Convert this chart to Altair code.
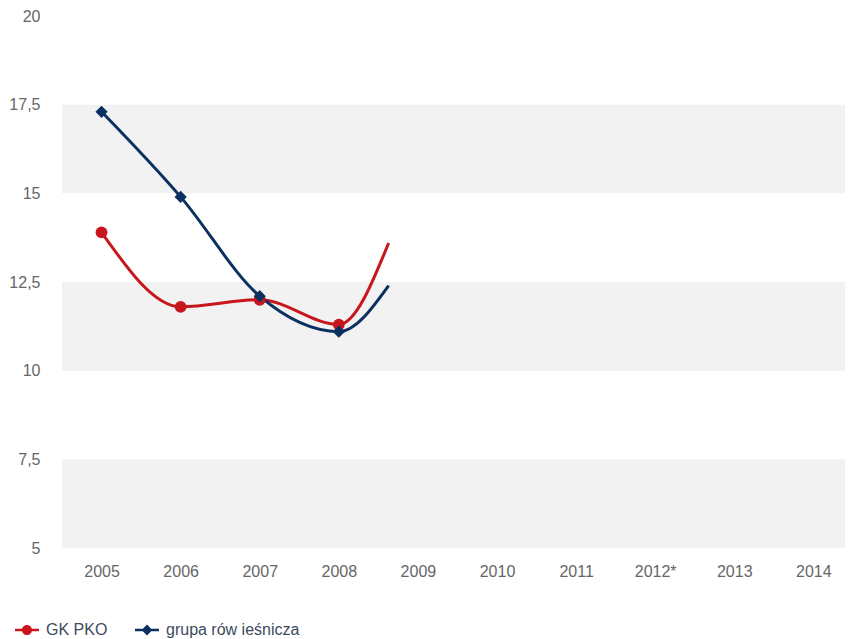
import altair as alt
import pandas as pd

# ---- data ----
years = [2005, 2006, 2007, 2008]
gk_pko = [13.9, 11.8, 12.0, 11.3]
peer_group = [17.3, 14.9, 12.1, 11.1]
# where the drawn lines stop (the curves are cut off on their way to 2009)
cut_year = 2008.63
gk_pko_cut = 13.6
peer_group_cut = 12.4

series_names = ["GK PKO", "grupa rów ieśnicza"]
series_colors = ["#c8161e", "#0b3161"]

x_ticks = [2005, 2006, 2007, 2008, 2009, 2010, 2011, 2012, 2013, 2014]
x_labels = ["2005", "2006", "2007", "2008", "2009", "2010", "2011", "2012*", "2013", "2014"]
y_ticks = [5, 7.5, 10, 12.5, 15, 17.5, 20]
y_labels = ["5", "7,5", "10", "12,5", "15", "17,5", "20"]
band_start = [15, 10, 5]
band_end = [17.5, 12.5, 7.5]

# ---- tables ----
rows = []
for name, vals, cut in [(series_names[0], gk_pko, gk_pko_cut), (series_names[1], peer_group, peer_group_cut)]:
    for y, v in zip(years, vals):
        rows.append({"series": name, "year": y, "value": v, "marker": True})
    rows.append({"series": name, "year": cut_year, "value": cut, "marker": False})
df = pd.DataFrame(rows)
bands = pd.DataFrame({"y0": band_start, "y1": band_end})

W, H = 783, 532
FONT = "Liberation Sans"

x_label_expr = "[" + ",".join(f"'{l}'" for l in x_labels) + f"][round(datum.value - {x_ticks[0]})]"
y_label_expr = "[" + ",".join(f"'{l}'" for l in y_labels) + f"][round((datum.value - {y_ticks[0]}) / 2.5)]"

x_enc = alt.X(
    "year:Q",
    scale=alt.Scale(domain=[2004.5, 2014.4], nice=False, zero=False),
    axis=alt.Axis(
        values=x_ticks, labelExpr=x_label_expr, title=None, grid=False, ticks=False,
        domain=False, labelPadding=15, labelFontSize=16, labelColor="#666666", labelFont=FONT,
    ),
)
y_scale = alt.Scale(domain=[5, 20], nice=False, zero=False)
y_enc = alt.Y(
    "value:Q",
    scale=y_scale,
    axis=alt.Axis(
        values=y_ticks, labelExpr=y_label_expr, title=None, grid=False, ticks=False,
        domain=False, labelPadding=22, labelFontSize=16, labelColor="#666666", labelFont=FONT,
    ),
)

color_scale = alt.Scale(domain=series_names, range=series_colors)

band_layer = alt.Chart(bands).mark_rect(color="#f2f2f2").encode(
    y=alt.Y("y0:Q", scale=y_scale),
    y2="y1:Q",
)

pts = df[df["marker"]]
shapes = ["circle", "diamond"]
sizes = [140, 150]
series_layers = []
for name, col in zip(series_names, series_colors):
    line = alt.Chart(df[df["series"] == name]).mark_line(
        interpolate="monotone", strokeWidth=3, color=col
    ).encode(x=x_enc, y=y_enc, order="year:Q")
    series_layers.append(line)
for name, col, shp, sz in zip(series_names, series_colors, shapes, sizes):
    dots = alt.Chart(pts[pts["series"] == name]).mark_point(
        shape=shp, filled=True, size=sz, opacity=1, color=col
    ).encode(x="year:Q", y="value:Q")
    series_layers.append(dots)

legend_circle = "M-1,-0.1L1,-0.1L1,0.1L-1,0.1Z M-0.42,0A0.42,0.42 0 1,1 0.42,0A0.42,0.42 0 1,1 -0.42,0Z"
legend_diamond = "M-1,-0.1L1,-0.1L1,0.1L-1,0.1Z M-0.45,0L0,-0.45L0.45,0L0,0.45Z"

legend = alt.Legend(
    title=None, orient="none", direction="horizontal", legendX=-47, legendY=602,
    symbolSize=576, symbolOpacity=1, symbolStrokeWidth=0, labelOffset=7,
    columnPadding=27, labelFontSize=16, labelColor="#3d4b5e", labelFont=FONT,
)
legend_layer = alt.Chart(pts).mark_point(filled=True, opacity=0).encode(
    x="year:Q",
    y="value:Q",
    color=alt.Color("series:N", scale=color_scale, legend=legend),
    shape=alt.Shape("series:N", scale=alt.Scale(domain=series_names, range=[legend_circle, legend_diamond]), legend=legend),
)

chart = (
    alt.layer(band_layer, *series_layers, legend_layer)
    .properties(
        width=W, height=H,
        autosize=alt.AutoSizeParams(type="none"),
        padding={"left": 54, "top": 8, "right": 0, "bottom": 91},
        background="white",
    )
    .configure(font=FONT, view=alt.ViewConfig(stroke=None))
)

chart.save("out.html", embed_options={"renderer": "svg", "actions": False})
